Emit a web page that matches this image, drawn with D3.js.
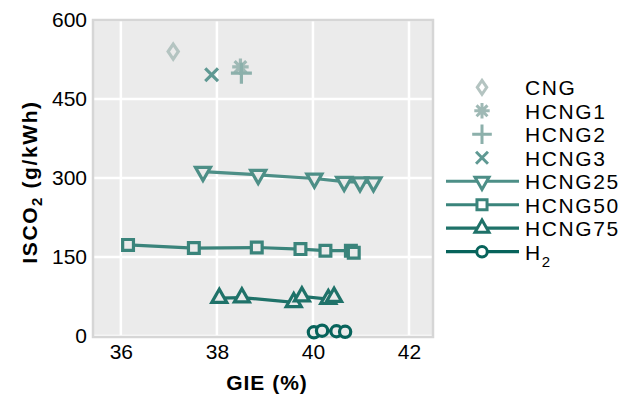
<!DOCTYPE html>
<html>
<head>
<meta charset="utf-8">
<script src="https://cdn.jsdelivr.net/npm/d3@7"></script>
<style>
  body { margin: 0; background: #fff; }
  text { font-family: "Liberation Sans", Arial, sans-serif; fill: #000; }
</style>
</head>
<body>
<div id="chart"></div>
<script>
// values
const xTicks = [36, 38, 40, 42];
const yTicks = [0, 150, 300, 450, 600];

const cngGie = [37.09],   cngIsco = [540];
const hcng1Gie = [38.49], hcng1Isco = [511];
const hcng2Gie = [38.51], hcng2Isco = [499];
const hcng3Gie = [37.89], hcng3Isco = [496];
const hcng25Gie = [37.71, 38.86, 40.03, 40.65, 40.98, 41.26];
const hcng25Isco = [312, 306, 299, 293, 292, 292];
const hcng50Gie = [36.15, 37.52, 38.83, 39.74, 40.26, 40.79, 40.85];
const hcng50Isco = [173, 167, 168, 165, 162, 162, 158];
const hcng75Gie = [38.05, 38.52, 39.60, 39.77, 40.32, 40.44];
const hcng75Isco = [72, 73, 64, 75, 70, 74];
const h2Gie = [40.02, 40.19, 40.49, 40.67];
const h2Isco = [7, 10, 9, 8];

const seriesNames = ["CNG", "HCNG1", "HCNG2", "HCNG3", "HCNG25", "HCNG50", "HCNG75", "H2"];
const seriesColors = ["#b4c4c1", "#9fb9b5", "#8cb0ab", "#5f9993", "#4d8f87", "#3a847b", "#1f7269", "#07635b"];
const seriesShapes = ["diamond", "asterisk", "plus", "times", "down", "square", "up", "circle"];
const seriesLines = [false, false, false, false, true, true, true, true];

const allGie = [cngGie, hcng1Gie, hcng2Gie, hcng3Gie, hcng25Gie, hcng50Gie, hcng75Gie, h2Gie];
const allIsco = [cngIsco, hcng1Isco, hcng2Isco, hcng3Isco, hcng25Isco, hcng50Isco, hcng75Isco, h2Isco];

const series = seriesNames.map((name, i) => ({
  name: name,
  color: seriesColors[i],
  shape: seriesShapes[i],
  line: seriesLines[i],
  points: allGie[i].map((g, j) => ({ x: g, y: allIsco[i][j] }))
}));

const width = 640, height = 395;
const svg = d3.select("#chart").append("svg")
  .attr("width", width)
  .attr("height", height);

const panel = { left: 93, right: 433, top: 20, bottom: 337 };

const x = d3.scaleLinear().domain([35.42, 42.5]).range([panel.left, panel.right]);
const y = d3.scaleLinear().domain([0, 600]).range([336, 20]);

// panel background
svg.append("rect")
  .attr("x", panel.left).attr("y", panel.top)
  .attr("width", panel.right - panel.left)
  .attr("height", panel.bottom - panel.top)
  .attr("fill", "#ebebeb");

// grid
svg.append("g").selectAll("line")
  .data(xTicks).enter().append("line")
  .attr("x1", d => x(d)).attr("x2", d => x(d))
  .attr("y1", panel.top).attr("y2", panel.bottom)
  .attr("stroke", "#fff").attr("stroke-width", 2.5);
svg.append("g").selectAll("line")
  .data(yTicks).enter().append("line")
  .attr("x1", panel.left).attr("x2", panel.right)
  .attr("y1", d => y(d)).attr("y2", d => y(d))
  .attr("stroke", "#fff").attr("stroke-width", 2.5);

// border
svg.append("rect")
  .attr("x", panel.left).attr("y", panel.top)
  .attr("width", panel.right - panel.left)
  .attr("height", panel.bottom - panel.top)
  .attr("fill", "none")
  .attr("stroke", "#d6d6d6").attr("stroke-width", 2.5);

// axes (labels only, no ticks)
const xAxis = svg.append("g")
  .attr("transform", "translate(0," + panel.bottom + ")")
  .call(d3.axisBottom(x).tickValues(xTicks).tickSize(0).tickPadding(7));
const yAxis = svg.append("g")
  .attr("transform", "translate(" + panel.left + ",0)")
  .call(d3.axisLeft(y).tickValues(yTicks).tickSize(0).tickPadding(6));
[xAxis, yAxis].forEach(a => {
  a.select(".domain").remove();
  a.selectAll("text")
    .style("font-family", "'Liberation Sans', Arial, sans-serif")
    .style("font-size", "21px")
    .attr("fill", "#000");
});

// marker path in local coords, s = half size
function markerPath(shape, s) {
  const p = d3.path();
  if (shape === "diamond") {
    p.moveTo(0, -s * 1.0); p.lineTo(s * 0.68, 0); p.lineTo(0, s * 1.0); p.lineTo(-s * 0.68, 0); p.closePath();
  } else if (shape === "asterisk") {
    p.moveTo(-s * 1.1, 0); p.lineTo(s * 1.1, 0); p.moveTo(0, -s * 1.1); p.lineTo(0, s * 1.1);
    const d = s * 0.78;
    p.moveTo(-d, -d); p.lineTo(d, d); p.moveTo(-d, d); p.lineTo(d, -d);
  } else if (shape === "plus") {
    const t = s * 1.4;
    p.moveTo(-t, 0); p.lineTo(t, 0); p.moveTo(0, -t); p.lineTo(0, t);
  } else if (shape === "times") {
    const d = s * 0.85;
    p.moveTo(-d, -d); p.lineTo(d, d); p.moveTo(-d, d); p.lineTo(d, -d);
  } else if (shape === "down") {
    const h = s * 1.75;
    p.moveTo(-s, -h / 3); p.lineTo(s, -h / 3); p.lineTo(0, h * 2 / 3); p.closePath();
  } else if (shape === "up") {
    const h = s * 1.75;
    p.moveTo(-s, h / 3); p.lineTo(s, h / 3); p.lineTo(0, -h * 2 / 3); p.closePath();
  } else if (shape === "square") {
    const q = s * 0.72;
    p.rect(-q, -q, 2 * q, 2 * q);
  } else if (shape === "circle") {
    p.arc(0, 0, s * 0.75, 0, 2 * Math.PI);
  }
  return p.toString();
}

const line = d3.line().x(d => x(d.x)).y(d => y(d.y));
const markerSize = 7.5;

series.forEach(s => {
  const g = svg.append("g");
  if (s.line) {
    g.append("path")
      .datum(s.points)
      .attr("d", line)
      .attr("fill", "none")
      .attr("stroke", s.color)
      .attr("stroke-width", 3.2);
  }
  g.selectAll("path.pt")
    .data(s.points)
    .enter().append("path")
    .attr("class", "pt")
    .attr("transform", d => "translate(" + x(d.x) + "," + y(d.y) + ")")
    .attr("d", markerPath(s.shape, markerSize))
    .attr("fill", s.line ? "#ebebeb" : "none")
    .attr("stroke", s.color)
    .attr("stroke-width", 3.2);
});

// legend
const legend = svg.append("g");
const legendY = d3.scaleLinear().domain([0, 7]).range([87.3, 251.7]);
series.forEach((s, i) => {
  const row = legend.append("g").attr("transform", "translate(0," + legendY(i) + ")");
  if (s.line) {
    row.append("line")
      .attr("x1", 446).attr("x2", 519)
      .attr("stroke", s.color).attr("stroke-width", 3.2);
  }
  row.append("path")
    .attr("transform", "translate(482,0)")
    .attr("d", markerPath(s.shape, 7))
    .attr("fill", s.line ? "#fff" : "none")
    .attr("stroke", s.color)
    .attr("stroke-width", 3);
  const t = row.append("text")
    .attr("x", 525).attr("y", 8)
    .style("font-size", "21px")
    .style("letter-spacing", "1.6px");
  if (s.name === "H2") {
    t.append("tspan").text("H");
    t.append("tspan").attr("dy", 7).style("font-size", "15px").text("2");
  } else {
    t.text(s.name);
  }
});

// axis titles
svg.append("text")
  .attr("x", 267).attr("y", 390)
  .attr("text-anchor", "middle")
  .style("font-size", "21px")
  .style("font-weight", "bold")
  .style("letter-spacing", "1px")
  .text("GIE (%)");

const yt = svg.append("text")
  .attr("transform", "translate(37,182) rotate(-90)")
  .attr("text-anchor", "middle")
  .style("font-size", "21px")
  .style("font-weight", "bold")
  .style("letter-spacing", "1.6px");
yt.append("tspan").text("ISCO");
yt.append("tspan").attr("dy", 5).style("font-size", "15px").text("2");
yt.append("tspan").attr("dy", -5).text(" (g/kWh)");
</script>
</body>
</html>
